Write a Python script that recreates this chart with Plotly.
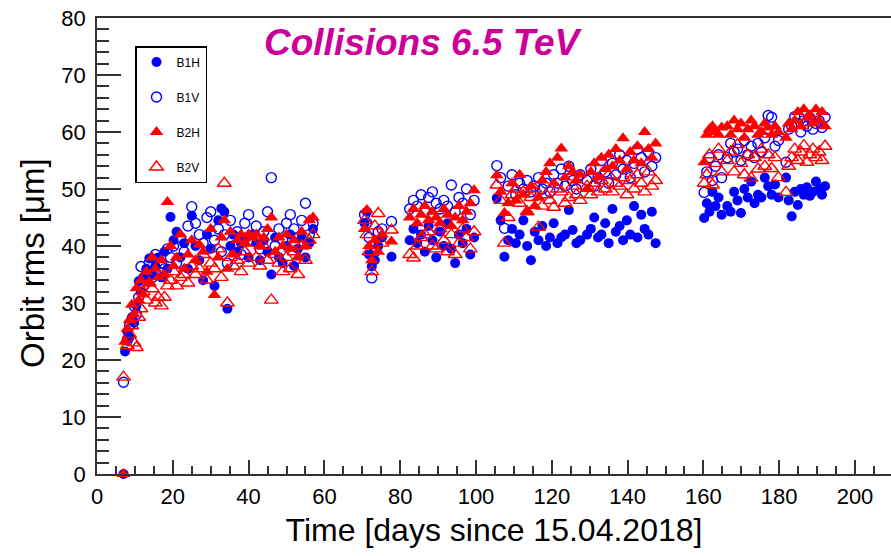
import plotly.graph_objects as go

# ---------------- data ----------------
DAYS_S1 = [7.0, 7.4, 8.0, 8.6, 9.2, 9.8, 10.4, 11.0, 11.6, 12.2,
           13.0, 13.8, 14.6, 15.4, 16.2, 17.0, 17.8, 18.6, 19.4, 20.2,
           21, 22, 23, 24, 25, 26, 27, 28, 29, 30, 31,
           32.0, 32.8, 33.6, 34.4, 35.2,
           36, 37, 38, 39, 40, 41, 42, 43, 44, 45, 46, 47, 48, 49, 50,
           51, 52, 53, 54, 55, 56, 57]
B1H_S1 = [0, 21.5, 25.0, 24.0, 27.5, 26.5, 29.5, 33.8, 32.0, 34.5,
          36.0, 37.8, 35.0, 36.5, 38.0, 34.5, 39.0, 36.0, 45.1, 41.0,
          42.5, 38.0, 40.5, 36.0, 45.3, 40.0, 37.5, 34.0, 42.0, 39.5, 33.0,
          44.5, 46.6, 46.0, 29.0, 40.0,
          42.0, 39.0, 40.5, 41.5, 38.0, 42.0, 40.5, 37.5, 41.0, 39.0, 35.0, 41.5, 38.0, 37.0, 40.0,
          42.0, 36.5, 39.5, 41.5, 38.0, 40.5, 43.0]
B1V_S1 = [16.1, None, 23.5, 26.0, 27.0, 29.5, 28.0, 31.0, 36.4, 33.0,
          35.0, 37.0, 34.5, 38.5, 35.5, 37.0, 36.0, 39.5, 38.0, 40.0,
          37.0, 41.5, 39.0, 43.5, 46.9, 44.0, 42.0, 40.5, 45.0, 46.0, 41.0,
          43.0, 39.0, 42.0, 37.0, 44.5,
          40.0, 42.5, 38.5, 44.0, 45.5, 41.0, 43.5, 39.5, 42.5, 46.0, 52.0, 40.0, 43.0, 41.0, 44.0,
          45.5, 43.0, 41.5, 44.5, 47.5, 42.0, 44.0]
B2H_S1 = [0, 23.2, 25.5, 27.0, 29.7, 28.0, 32.6, 30.5, 34.0, 31.5,
          35.5, 33.5, 38.0, 36.0, 34.5, 37.5, 35.0, 47.7, 40.0, 36.5,
          38.0, 42.0, 36.0, 38.5, 41.0, 37.5, 40.2, 39.0, 35.5, 43.0, 31.4,
          38.0, 41.5, 44.5, 36.0, 42.5,
          38.5, 41.0, 42.0, 40.5, 42.0, 41.5, 42.0, 40.0, 41.5, 43.0, 45.0, 39.0, 41.5, 40.0, 42.0,
          39.5, 41.0, 38.0, 42.5, 40.0, 44.5, 45.0]
B2V_S1 = [17.0, None, 22.5, 24.5, 26.0, 23.0, 22.2, 27.5, 29.0, 32.0,
          30.5, 33.5, 32.5, 30.0, 31.0, 29.5, 31.0, 33.0, 34.0, 35.5,
          33.0, 34.5, 35.0, 33.5, 36.5, 35.0, 36.0, 38.5, 34.0, 37.0, 36.0,
          39.5, 34.5, 51.0, 30.0, 38.0,
          36.5, 37.5, 35.5, 39.0, 37.0, 40.5, 38.0, 36.5, 40.0, 37.5, 30.5, 38.5, 37.0, 35.5, 38.0,
          36.0, 39.0, 35.0, 40.0, 37.5, 41.0, 42.0]

DAYS_S2 = [70.6, 71.2, 71.8, 72.5, 73.3, 74.2, 75.2, 77.7,
           82.5, 83.5, 84.5, 85.5, 86.5, 87.5, 88.5, 89.5, 90.5, 91.5,
           92.5, 93.5, 94.5, 95.5, 96.5, 97.5, 98.5, 99.5]
B1H_S2 = [44.0, 46.0, 38.5, 36.4, 37.5, 40.0, 41.5, 38.1,
          41.0, 43.0, 40.5, 42.0, 39.0, 43.5, 41.0, 38.0, 42.5, 40.0,
          44.0, 39.5, 37.0, 42.0, 40.5, 43.0, 38.5, 41.5]
B1V_S2 = [45.5, 44.0, 41.5, 34.4, 39.0, 42.5, 43.0, 44.3,
          46.5, 48.0, 47.0, 49.0, 46.0, 48.5, 49.5, 47.5, 46.5, 48.0,
          47.0, 50.7, 46.0, 48.5, 47.5, 50.0, 45.5, 48.0]
B2H_S2 = [43.0, 46.3, 40.0, 37.5, 41.0, 39.0, 42.0, 40.8,
          45.0, 46.5, 44.0, 45.5, 47.0, 44.5, 46.0, 45.0, 44.0, 46.5,
          45.5, 43.5, 45.0, 47.0, 44.5, 46.0, 47.5, 49.8]
B2V_S2 = [44.5, 42.0, 39.0, 35.5, 43.5, 45.7, 40.5, 42.8,
          38.5, 37.9, 40.0, 41.5, 42.0, 42.5, 40.0, 39.5, 43.0, 41.0,
          39.0, 42.0, 38.5, 40.5, 43.0, 41.5, 39.5, 42.5]

DAYS_S3 = [105.5, 106.5, 107.5, 108.5, 109.5, 110.5, 111.5, 112.5, 113.5, 114.5,
           115.5, 116.5, 117.5, 118.5, 119.5, 120.5, 121.5, 122.5, 123.5, 124.5,
           125.5, 126.5, 127.5,
           129.3, 130.3, 131.2, 132.2, 133.1, 134.1, 135.0, 136.0, 136.9, 137.9,
           138.8, 139.8, 140.7, 141.7, 142.6, 143.6, 144.5, 145.5, 146.4, 147.4]
B1H_S3 = [48.4, 44.5, 38.1, 41.0, 43.0, 40.5, 42.0, 44.5, 40.0, 37.5,
          42.5, 41.0, 43.5, 40.0, 41.5, 44.0, 40.5, 41.5, 42.0, 46.3,
          42.8, 40.5, 41.0,
          42.0, 43.0, 45.0, 41.5, 42.0, 44.0, 40.5, 46.5, 42.5, 43.5,
          41.0, 44.5, 42.0, 47.0, 41.5, 45.5, 43.0, 42.0, 46.0, 40.5]
B1V_S3 = [54.1, 52.0, 43.1, 50.5, 52.5, 49.0, 51.0, 50.0, 51.5, 49.5,
          50.5, 52.0, 50.0, 51.0, 49.5, 52.5, 51.0, 53.5, 50.5, 54.0,
          51.5, 50.0, 52.5,
          51.5, 53.5, 50.5, 52.0, 55.0, 53.0, 51.0, 54.5, 52.5, 56.0,
          53.5, 55.0, 52.0, 54.5, 57.0, 55.5, 53.0, 56.5, 54.0, 55.5]
B2H_S3 = [52.4, 49.5, 45.8, 47.5, 51.0, 48.0, 52.5, 49.0, 46.0, 50.5,
          47.0, 48.5, 51.5, 53.0, 54.5, 51.0, 55.5, 57.1, 52.0, 54.0,
          53.0, 51.5, 52.5,
          50.0, 53.0, 54.5, 52.0, 55.5, 53.5, 56.0, 54.0, 57.0, 55.0,
          58.9, 53.5, 56.5, 55.0, 57.5, 54.5, 60.0, 57.0, 55.5, 58.0]
B2V_S3 = [50.7, 48.0, 40.5, 45.0, 49.0, 50.0, 47.5, 49.5, 46.0, 48.5,
          50.0, 43.3, 47.0, 49.0, 48.0, 46.8, 50.0, 49.5, 47.5, 48.5,
          50.5, 49.0, 48.0,
          50.5, 49.0, 51.0, 49.5, 51.5, 50.0, 52.5, 49.5, 51.0, 50.5,
          52.0, 49.0, 51.5, 50.0, 52.5, 51.0, 49.5, 53.0, 50.5, 51.5]

DAYS_S4 = [160.2, 160.9, 161.6, 162.4, 163.2, 164.0, 164.8,
           166.3, 167.2, 168.1, 169.0, 169.9, 170.8, 171.7, 172.6, 173.5,
           174.4, 175.3, 176.2, 177.1, 178.0, 178.9, 179.8,
           181.8, 182.5, 183.3, 184.1, 184.9, 185.7, 186.5, 187.3, 188.1,
           188.9, 189.7, 190.5, 191.3, 192.1]
B1H_S4 = [44.9, 47.5, 46.0, 49.5, 47.0, 48.5, 45.5,
          47.0, 46.0, 49.5, 48.0, 45.8, 50.0, 48.5, 51.3, 47.5,
          49.0, 48.5, 52.0, 50.5, 49.0, 50.8, 48.5,
          52.0, 48.0, 45.2, 49.5, 47.2, 50.0, 49.0, 50.3, 48.8,
          49.5, 51.3, 50.0, 49.0, 50.5]
B1V_S4 = [49.4, 53.0, 55.5, 51.5, 54.0, 56.0, 52.0,
          55.5, 58.0, 56.5, 57.0, 55.0, 58.5, 56.0, 57.5, 55.5,
          58.0, 56.5, 59.0, 62.9, 62.6, 57.5, 58.5,
          54.7, 60.5, 61.0, 62.7, 61.5, 60.0, 62.0, 61.0, 62.5,
          60.5, 61.5, 62.0, 60.8, 62.6]
B2H_S4 = [54.7, 59.5, 60.5, 61.0, 60.0, 59.5, 60.8,
          61.0, 59.5, 62.0, 60.5, 61.5, 59.0, 60.5, 62.0, 61.0,
          59.5, 60.0, 61.5, 60.8, 59.5, 61.0, 60.0,
          59.0, 61.5, 60.5, 62.0, 63.5, 61.0, 64.0, 62.5, 63.0,
          61.5, 64.0, 62.0, 63.5, 61.0]
B2V_S4 = [51.0, 52.5, 56.0, 50.7, 54.5, 57.0, 53.0,
          55.0, 56.5, 53.0, 57.8, 54.5, 52.5, 56.0, 51.9, 55.5,
          53.5, 57.0, 54.0, 56.0, 53.6, 55.5, 52.0,
          49.4, 54.0, 55.5, 57.0, 55.0, 56.5, 57.6, 54.7, 56.0,
          57.0, 55.5, 56.5, 55.0, 57.5]

DAYS = DAYS_S1 + DAYS_S2 + DAYS_S3 + DAYS_S4
B1H = B1H_S1 + B1H_S2 + B1H_S3 + B1H_S4
B1V = B1V_S1 + B1V_S2 + B1V_S3 + B1V_S4
B2H = B2H_S1 + B2H_S2 + B2H_S3 + B2H_S4
B2V = B2V_S1 + B2V_S2 + B2V_S3 + B2V_S4

SERIES_NAMES = ["B1H", "B1V", "B2H", "B2V"]
X_TICKS = [0, 20, 40, 60, 80, 100, 120, 140, 160, 180, 200]
Y_TICKS = [0, 10, 20, 30, 40, 50, 60, 70, 80]

# ---------------- figure ----------------
FONT = "Liberation Sans, Arial, Helvetica, sans-serif"
BLUE = "#0000FF"
RED = "#FF0000"
AXC = "#333333"

# full-window figure; body margin is removed by a post script
W, H = 891, 556
ML, MR, MT, MB = 97, 0, 18, 82
PW, PH = W - ML - MR, H - MT - MB


def px_x(page_x):
    return (page_x - ML) / PW


def px_y(page_y):
    return (H - MB - page_y) / PH


styles = {
    "B1H": dict(symbol="circle", size=10, color=BLUE, line=dict(width=0)),
    "B1V": dict(symbol="circle-open", size=10, color=BLUE, line=dict(width=1.4, color=BLUE)),
    "B2H": dict(symbol="triangle-up", size=12, color=RED, line=dict(width=0)),
    "B2V": dict(symbol="triangle-up-open", size=12, color=RED, line=dict(width=1.4, color=RED)),
}
values = {"B1H": B1H, "B1V": B1V, "B2H": B2H, "B2V": B2V}

fig = go.Figure()
for name in SERIES_NAMES:
    fig.add_trace(go.Scatter(
        x=DAYS, y=values[name], mode="markers", name=name,
        marker=styles[name], cliponaxis=False,
        legendgroup=name, hoverinfo="skip",
    ))

fig.update_layout(
    width=W, height=H,
    margin=dict(l=ML, r=MR, t=MT, b=MB, autoexpand=False),
    paper_bgcolor="white", plot_bgcolor="white",
    font=dict(family=FONT, color="black"),
    showlegend=True,
    legend=dict(
        x=px_x(135), y=px_y(46), xanchor="left", yanchor="top",
        bgcolor="white", bordercolor="black", borderwidth=1.5,
        font=dict(size=12, family=FONT),
        tracegroupgap=16, traceorder="grouped",
        itemsizing="trace",
    ),
    xaxis=dict(
        range=[0, 209.5], tickvals=X_TICKS, ticks="inside", ticklen=14,
        tickwidth=1.5, tickcolor=AXC, automargin=False,
        minor=dict(dtick=5, tick0=0, ticks="inside", ticklen=8, tickwidth=1.5, tickcolor=AXC),
        showline=True, linecolor=AXC, linewidth=1.5, mirror=True,
        showgrid=False, zeroline=False,
        tickfont=dict(size=22, family=FONT), ticklabelstandoff=2,
        ticklabeloverflow="allow",
        title=dict(text="Time [days since 15.04.2018]", font=dict(size=32, family=FONT), standoff=10),
    ),
    yaxis=dict(
        range=[0, 80], tickvals=Y_TICKS, ticks="inside", ticklen=24,
        tickwidth=1.5, tickcolor=AXC, automargin=False,
        minor=dict(dtick=2, tick0=0, ticks="inside", ticklen=12, tickwidth=1.5, tickcolor=AXC),
        showline=True, linecolor=AXC, linewidth=1.5, mirror=False,
        showgrid=False, zeroline=False,
        tickfont=dict(size=22, family=FONT), ticklabelstandoff=5,
        ticklabeloverflow="allow",
    ),
    annotations=[
        dict(
            text="<b><i>Collisions 6.5 TeV</i></b>",
            xref="paper", yref="paper",
            x=px_x(262), y=px_y(42),
            xanchor="left", yanchor="middle", showarrow=False,
            font=dict(size=37, color="#CC0099", family=FONT),
        ),
        dict(
            text="Orbit rms [\u03bcm]", textangle=-90,
            xref="paper", yref="paper",
            x=px_x(32), y=px_y(263),
            xanchor="center", yanchor="middle", showarrow=False,
            font=dict(size=33, family=FONT),
        ),
    ],
)

fig.write_html(
    "out.html",
    config={"displayModeBar": False},
    post_script="document.body.style.margin='0';document.body.style.overflow='hidden';",
)
